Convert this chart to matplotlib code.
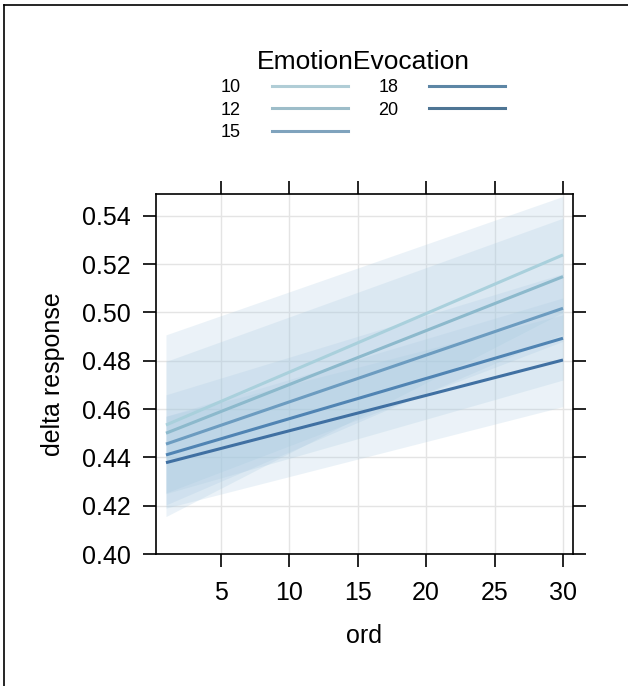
import matplotlib.pyplot as plt
from matplotlib.lines import Line2D

plt.rcParams['font.family'] = ['Liberation Sans', 'DejaVu Sans']

# EmotionEvocation levels, fitted delta response at ord = 1 and ord = 30
levels = ['10', '12', '15', '18', '20']
ord_ends = [1, 30]
fit_start = [0.4534, 0.4500, 0.4455, 0.4410, 0.4378]
fit_end = [0.5238, 0.5148, 0.5017, 0.4893, 0.4803]
# confidence band edges
low_start = [0.4155, 0.4203, 0.4253, 0.4250, 0.4190]
up_start = [0.4907, 0.4797, 0.4659, 0.4570, 0.4570]
low_end = [0.5000, 0.4910, 0.4880, 0.4720, 0.4610]
up_end = [0.5480, 0.5390, 0.5160, 0.5060, 0.4990]

line_colors = ['#a9d0dc', '#8cb9cc', '#6c9cc0', '#5084b3', '#4070a2']
legend_colors = ['#b0cdd6', '#9dbdc9', '#7fa3bd', '#5d86a5', '#4e7594']

fig = plt.figure(figsize=(6.28, 6.86), dpi=100)
ax = fig.add_axes([0.2484, 0.1924, 0.6640, 0.5248])

for i in range(len(levels)):
    ax.fill_between(ord_ends, [low_start[i], low_end[i]], [up_start[i], up_end[i]],
                    color='#a6c8e0', alpha=0.22, linewidth=0, zorder=2)
for i in range(len(levels)):
    ax.plot(ord_ends, [fit_start[i], fit_end[i]], color=line_colors[i], lw=2.2,
            zorder=3, solid_capstyle='butt')

ax.set_xlim(0.27, 30.73)
ax.set_ylim(0.40, 0.549)
ax.set_xticks([5, 10, 15, 20, 25, 30])
ax.set_yticks([0.40, 0.42, 0.44, 0.46, 0.48, 0.50, 0.52, 0.54])
ax.set_yticklabels(['%.2f' % v for v in ax.get_yticks()])
ax.grid(True, color='#e4e4e4', lw=1.0, zorder=0)
ax.set_axisbelow(True)
ax.tick_params(direction='out', length=9.4, width=1.2, labelsize=18,
               top=True, right=True)
ax.tick_params(axis='y', pad=9)
ax.tick_params(axis='x', pad=10)
for s in ax.spines.values():
    s.set_linewidth(1.2)

ax.set_xlabel('ord', fontsize=18, labelpad=14)
ax.set_ylabel('delta response', fontsize=18, labelpad=12)

handles = [Line2D([0], [0], color=c, lw=2.2) for c in legend_colors]
leg = fig.legend(handles, levels, title='EmotionEvocation', ncol=2, frameon=False,
                 markerfirst=False, loc='upper center', bbox_to_anchor=(0.578, 0.946),
                 fontsize=13, title_fontsize=19, handlelength=4.2,
                 handletextpad=1.7, columnspacing=1.7, labelspacing=0.3,
                 borderpad=0.2)

# frame around the picture (left and top edges visible)
fig.add_artist(Line2D([0.0065, 0.0065], [0, 0.993], color='black', lw=1.2))
fig.add_artist(Line2D([0.0065, 1.0], [0.993, 0.993], color='black', lw=1.2))

fig.savefig('out.png', dpi=100)
